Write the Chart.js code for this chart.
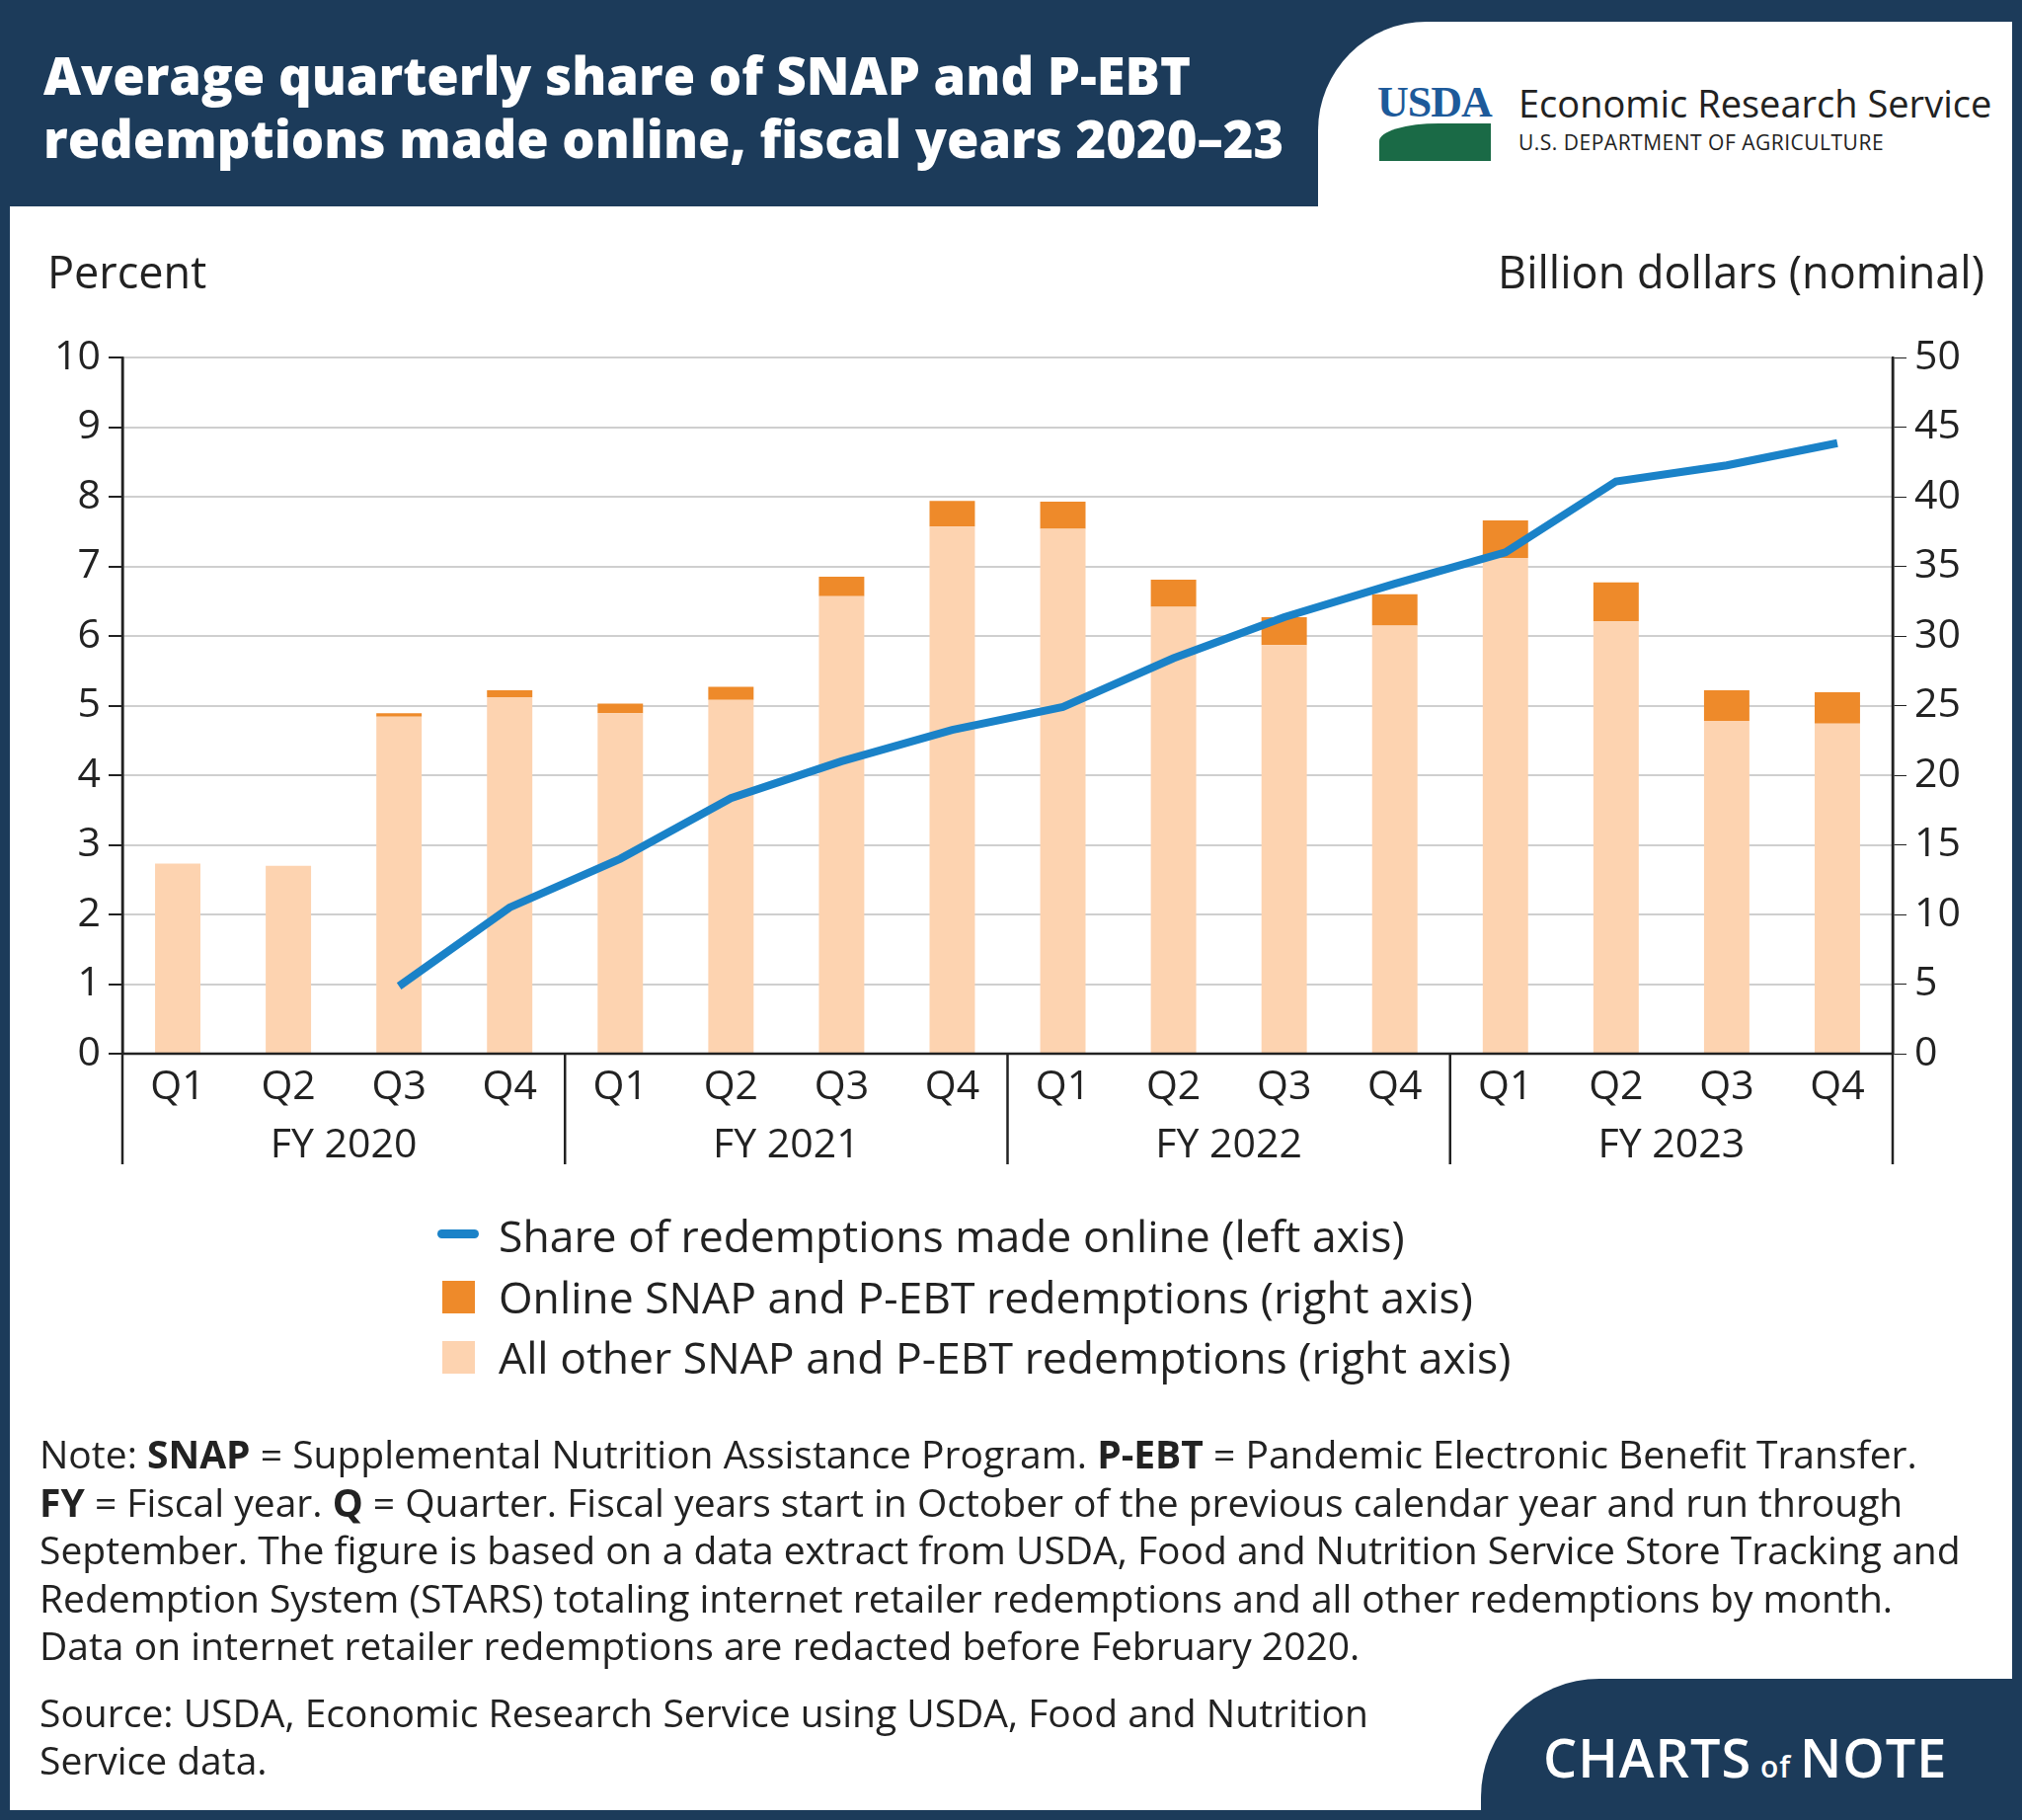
<!DOCTYPE html>
<html><head><meta charset="utf-8">
<script src="https://cdn.jsdelivr.net/npm/chart.js@4/dist/chart.umd.min.js"></script>
<style>
html,body{margin:0;padding:0;background:#fff;}
#page{position:relative;width:2048px;height:1843px;overflow:hidden;font-family:"Open Sans",sans-serif;color:#222;}
#frame{position:absolute;left:0;top:0;width:2028px;height:1823px;border:10px solid #1c3b5a;pointer-events:none;z-index:5;}
#hdr{position:absolute;left:0;top:0;width:2048px;height:209px;background:#1c3b5a;}
#tab{position:absolute;left:1335px;top:22px;width:760px;height:230px;background:#fff;border-top-left-radius:110px;}
#title{position:absolute;left:44px;top:44px;color:#fff;font-weight:800;font-size:52.5px;line-height:64px;}
#usda{position:absolute;left:1395px;top:78px;font-size:44px;font-weight:800;color:#1d5a9a;font-family:"Liberation Serif",serif;letter-spacing:-1px;}
#ers{position:absolute;left:1538px;top:78px;font-size:38px;}
#dept{position:absolute;left:1538px;top:130px;font-size:21px;letter-spacing:0.5px;}
#bar1{position:absolute;left:1397px;top:125px;width:113px;height:38px;background:#1a6a46;border-top-left-radius:60px 18px;}
.ax{position:absolute;top:244px;font-size:45px;}
canvas{position:absolute;left:0;top:0;}
#leg{position:absolute;left:0;top:0;font-size:44.5px;}
.li{position:absolute;left:505px;white-space:nowrap;}
.sw{position:absolute;}
#note{position:absolute;left:40px;top:1448px;font-size:39px;line-height:48.5px;width:2000px;white-space:nowrap;}
#src{position:absolute;left:40px;top:1710px;font-size:39px;line-height:48px;white-space:nowrap;}
#cn{position:absolute;left:1500px;top:1700px;width:600px;height:160px;background:#1c3b5a;border-top-left-radius:120px;}
#cnt{position:absolute;left:1563px;top:1742px;color:#fff;font-size:54px;font-weight:600;letter-spacing:1px;}
</style></head><body>
<div id="page">
<canvas id="c" width="2048" height="1843"></canvas>
<div id="hdr"></div><div id="tab"></div>
<div id="title">Average quarterly share of SNAP and P-EBT<br>redemptions made online, fiscal years 2020–23</div>
<div id="usda">USDA</div><div id="bar1"></div>
<div id="ers">Economic Research Service</div>
<div id="dept">U.S. DEPARTMENT OF AGRICULTURE</div>
<div class="ax" style="left:48px">Percent</div>
<div class="ax" style="right:38px">Billion dollars (nominal)</div>
<div id="leg">
<div class="sw" style="left:443px;top:1245px;width:42px;height:9px;background:#1a82c8;border-radius:5px"></div>
<div class="li" style="top:1220px">Share of redemptions made online (left axis)</div>
<div class="sw" style="left:448px;top:1297px;width:33px;height:33px;background:#ee8a2a"></div>
<div class="li" style="top:1282px">Online SNAP and P-EBT redemptions (right axis)</div>
<div class="sw" style="left:448px;top:1358px;width:33px;height:33px;background:#fdd3b0"></div>
<div class="li" style="top:1343px">All other SNAP and P-EBT redemptions (right axis)</div>
</div>
<div id="note">Note: <b>SNAP</b> = Supplemental Nutrition Assistance Program. <b>P-EBT</b> = Pandemic Electronic Benefit Transfer.<br><b>FY</b> = Fiscal year. <b>Q</b> = Quarter. Fiscal years start in October of the previous calendar year and run through<br>September. The figure is based on a data extract from USDA, Food and Nutrition Service Store Tracking and<br>Redemption System (STARS) totaling internet retailer redemptions and all other redemptions by month.<br>Data on internet retailer redemptions are redacted before February 2020.</div>
<div id="src">Source: USDA, Economic Research Service using USDA, Food and Nutrition<br>Service data.</div>
<div id="cn"></div><div id="cnt">CHARTS<span style="font-size:30px"> of </span>NOTE</div>
<div id="frame"></div>
</div>
<script>
const quarters=["Q1","Q2","Q3","Q4","Q1","Q2","Q3","Q4","Q1","Q2","Q3","Q4","Q1","Q2","Q3","Q4"];
const fiscalYears=["FY 2020","FY 2021","FY 2022","FY 2023"];
const otherRedemptions=[13.65,13.5,24.2,25.6,24.45,25.4,32.85,37.85,37.7,32.1,29.35,30.75,35.6,31.05,23.9,23.7];
const onlineRedemptions=[0,0,0.25,0.5,0.7,0.95,1.4,1.85,1.95,1.95,2.0,2.25,2.7,2.8,2.2,2.25];
const onlineShare=[null,null,0.97,2.1,2.8,3.67,4.2,4.65,4.98,5.68,6.27,6.75,7.2,8.22,8.45,8.77];
const leftTicks=[0,1,2,3,4,5,6,7,8,9,10];
const rightTicks=[0,5,10,15,20,25,30,35,40,45,50];
const labels=quarters.map((q,i)=>i);
const F='"Open Sans",sans-serif';
const deco={id:'deco',afterDraw(ch){
 const c=ch.ctx,a=ch.chartArea,x=ch.scales.x;
 c.save();c.strokeStyle='#222';c.lineWidth=2.5;
 c.beginPath();c.moveTo(a.left,a.bottom);c.lineTo(a.right,a.bottom);c.stroke();
 const step=(a.right-a.left)/quarters.length;
 for(let g=0;g<=4;g++){const px=a.left+g*4*step;c.beginPath();c.moveTo(px,g==0||g==4?a.top:a.bottom);c.lineTo(px,1179);c.stroke();}
 c.fillStyle='#222';c.textAlign='center';c.textBaseline='middle';c.font='41px '+F;
 quarters.forEach((q,i)=>c.fillText(q,x.getPixelForValue(i),1101));
 fiscalYears.forEach((f,g)=>c.fillText(f,a.left+(g*4+2)*step,1160));
 c.restore();}};
new Chart(document.getElementById('c'),{
 data:{labels,datasets:[
  {type:'line',data:onlineShare,yAxisID:'y',borderColor:'#1a82c8',borderWidth:8,pointRadius:0,tension:0,order:0},
  {type:'bar',data:otherRedemptions,yAxisID:'y1',backgroundColor:'#fdd3b0',stack:'s',barPercentage:0.41,categoryPercentage:1,order:1},
  {type:'bar',data:onlineRedemptions,yAxisID:'y1',backgroundColor:'#ee8a2a',stack:'s',barPercentage:0.41,categoryPercentage:1,order:2}
 ]},
 plugins:[deco],
 options:{responsive:false,animation:false,layout:{padding:{top:362,left:0,right:0,bottom:0}},
  plugins:{legend:{display:false},tooltip:{enabled:false}},
  scales:{
   x:{stacked:true,ticks:{display:false},grid:{display:false},border:{display:false},afterFit(s){s.height=776;}},
   y:{position:'left',min:0,max:10,afterBuildTicks(s){s.ticks=leftTicks.map(v=>({value:v}));},
      ticks:{color:'#222',font:{size:41,family:F},padding:8},grid:{color:'#cfcfcf',lineWidth:2,tickLength:14,tickColor:'#222',drawTicks:true},border:{color:'#222',width:2.5},afterFit(s){s.width=124;}},
   y1:{position:'right',min:0,max:50,stacked:true,afterBuildTicks(s){s.ticks=rightTicks.map(v=>({value:v}));},
      ticks:{color:'#222',font:{size:41,family:F},padding:8},grid:{display:true,drawOnChartArea:false,tickLength:14,tickColor:'#222'},border:{color:'#222',width:2.5},afterFit(s){s.width=131;}}
  }}
});
</script>
</body></html>
